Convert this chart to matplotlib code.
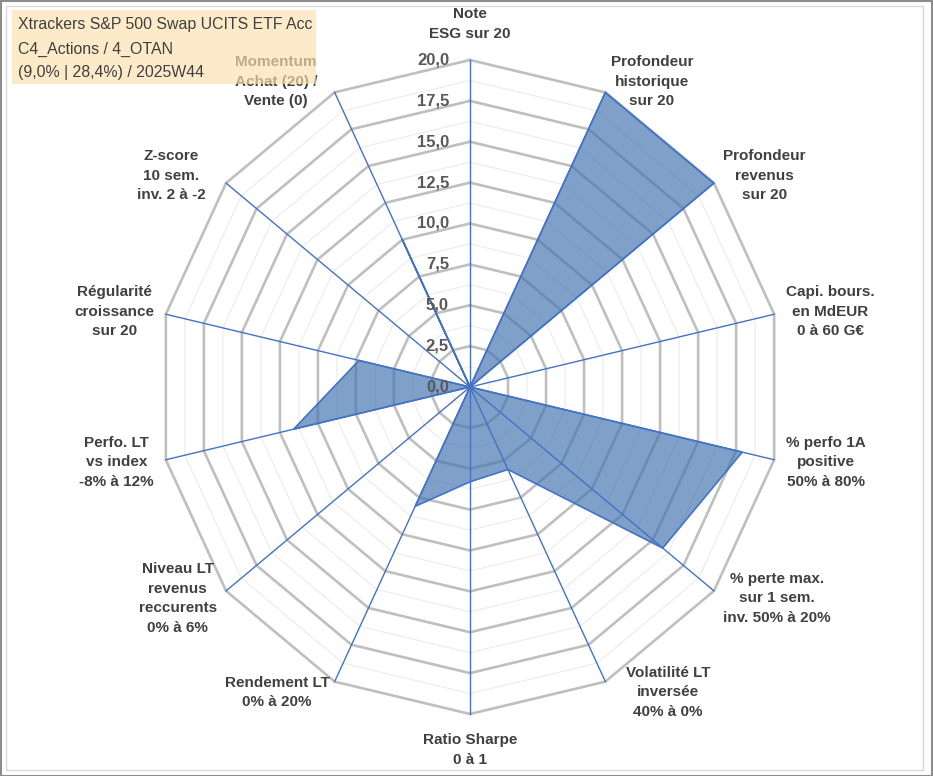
import numpy as np
import matplotlib
matplotlib.use("Agg")
import matplotlib.pyplot as plt
from matplotlib.patches import Rectangle

plt.rcParams['font.family'] = ['Liberation Sans', 'DejaVu Sans']

# data
categories = [
    "Note\nESG sur 20",
    "Profondeur\nhistorique\nsur 20",
    "Profondeur\nrevenus\nsur 20",
    "Capi. bours.\nen MdEUR\n0 à 60 G€",
    "% perfo 1A\npositive\n50% à 80%",
    "% perte max.\nsur 1 sem.\ninv. 50% à 20%",
    "Volatilité LT\ninversée\n40% à 0%",
    "Ratio Sharpe\n0 à 1",
    "Rendement LT\n0% à 20%",
    "Niveau LT\nrevenus\nreccurents\n0% à 6%",
    "Perfo. LT\nvs index\n-8% à 12%",
    "Régularité\ncroissance\nsur 20",
    "Z-score\n10 sem.\ninv. 2 à -2",
    "Momentum\nAchat (20) /\nVente (0)",
]
scores = [0, 20, 20, 0, 17.9, 15.8, 5.6, 5.8, 8.1, 0, 11.6, 7.3, 0, 10]
ticks = [0, 2.5, 5, 7.5, 10, 12.5, 15, 17.5, 20]
title_lines = [
    "Xtrackers S&P 500 Swap UCITS ETF Acc",
    "C4_Actions / 4_OTAN",
    "(9,0% | 28,4%) / 2025W44",
]

W, H = 933, 776
PT = 72 / 100  # pixels -> points
fig = plt.figure(figsize=(W / 100, H / 100), dpi=100)
ax = fig.add_axes([126.8 / W, 29.3 / H, 686.4 / W, 719.4 / H])
ax.set_xlim(-22, 22)
ax.set_ylim(-22, 22)
ax.axis("off")

n = len(categories)
ang = 2 * np.pi * np.arange(n) / n
sx, sy = np.sin(ang), np.cos(ang)
rmax = ticks[-1]

# polygon grid
minor = np.arange(1.25, rmax, 2.5)
for r in minor:
    ax.plot(np.append(r * sx, r * sx[0]), np.append(r * sy, r * sy[0]),
            color="#EBEBEB", lw=0.8, zorder=1)
for r in ticks[1:]:
    ax.plot(np.append(r * sx, r * sx[0]), np.append(r * sy, r * sy[0]),
            color="#BFBFBF", lw=1.9, zorder=2, solid_joinstyle="miter")

# series
v = np.array(scores, dtype=float)
px, py = np.append(v * sx, v[0] * sx[0]), np.append(v * sy, v[0] * sy[0])
ax.fill(px, py, color="#4274B0", alpha=0.68, lw=0, zorder=3)
ax.plot(px, py, color="#4472C4", lw=1.2, zorder=4)

# spokes
for i in range(n):
    ax.plot([0, rmax * sx[i]], [0, rmax * sy[i]], color="#4472C4", lw=1.0, zorder=5)

# scale labels
for t in ticks:
    ax.annotate(f"{t:.1f}".replace(".", ","), xy=(0, t), xytext=(-21 * PT, 0),
                textcoords="offset points", ha="right", va="center",
                fontsize=12, fontweight="bold", color="#595959", zorder=6)

# category labels (small horizontal nudges follow the original layout)
nudge = {6: 15, 12: -11, 13: -12}
for i, lab in enumerate(categories):
    if abs(sx[i]) < 0.1:
        ha = "center"
        va = "bottom" if sy[i] > 0 else "top"
        gap = 19
    else:
        ha = "left" if sx[i] > 0 else "right"
        va = "center"
        gap = 12
    dx = gap * sx[i] + nudge.get(i, 0)
    dy = gap * sy[i]
    ax.annotate(lab, xy=(rmax * sx[i], rmax * sy[i]),
                xytext=(dx * PT, dy * PT), textcoords="offset points",
                ha=ha, va=va, multialignment="center", linespacing=1.5,
                fontsize=11, fontweight="bold", color="#404040",
                annotation_clip=False, zorder=6)

# frames
fig.add_artist(Rectangle((6 / W, 6 / H), 917 / W, 764 / H, transform=fig.transFigure,
                         fill=False, edgecolor="#D9D9D9", lw=1.0, zorder=1))
fig.add_artist(Rectangle((0.5 / W, 0.5 / H), (W - 1.5) / W, (H - 1.5) / H,
                         transform=fig.transFigure, fill=False,
                         edgecolor="#8C8C8C", lw=1.5, zorder=1))

# title box, drawn over the top-left labels
fig.add_artist(Rectangle((12 / W, 1 - 84 / H), 304 / W, 74 / H, transform=fig.transFigure,
                         facecolor="#FCE1AD", edgecolor="none", alpha=0.67, zorder=5))
for k, line in enumerate(title_lines):
    fig.text(18 / W, 1 - (25 + 24 * k) / H, line, ha="left", va="center",
             fontsize=11.4, color="#404040", zorder=6)

fig.savefig("out.png", dpi=100)
